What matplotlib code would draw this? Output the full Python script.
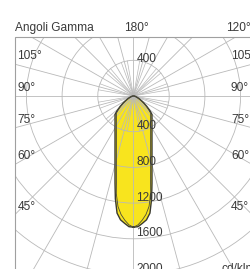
import numpy as np
import matplotlib
matplotlib.use("Agg")
import matplotlib.pyplot as plt
from matplotlib.patches import Rectangle, Circle, Polygon

# ---- data (cd/klm vs gamma angle, 0 deg = nadir) ----
gamma_deg = [0, 2, 4, 6, 8, 10, 12, 15, 20, 25, 30, 35, 40, 45, 48, 52, 56, 60, 65, 70, 80, 90, 100, 180]
plane_c0_c180 = [1470, 1465, 1430, 1395, 1325, 1170, 997, 801, 606, 490, 415, 361, 322, 293,
                 250, 190, 140, 100, 65, 42, 18, 8, 0, 0]
plane_c90_c270 = [1470, 1445, 1395, 1335, 1250, 1110, 916, 736, 557, 451, 381, 332, 296, 269,
                  230, 175, 130, 92, 60, 38, 16, 7, 0, 0]
ring_values = [400, 800, 1200, 1600, 2000]
side_angle_labels = [105, 90, 75, 60, 45]
top_angle_labels = [180, 120]
title_text = "Angoli Gamma"
unit_text = "cd/klm"

# ---- figure / geometry ----
W, H, DPI = 250, 269, 100
fig = plt.figure(figsize=(W / DPI, H / DPI), dpi=DPI)
ax = fig.add_axes([0, 0, 1, 1])
ax.set_axis_off()

CX, CY = 133.5, 96.0
K = 400 / 35.7  # data units per pixel


def px(x, y):
    return (x - CX) * K, (CY - y) * K


ax.set_xlim(-CX * K, (W - CX) * K)
ax.set_ylim((CY - H) * K, CY * K)

fl, ft = px(15, 37)
fr, fb = px(257, 320)
frame = Rectangle((fl, fb), fr - fl, ft - fb, fill=False, edgecolor="#a0a0a0", lw=0.8, zorder=5)
ax.add_patch(frame)

GRID = "#b9b9b9"
TXT = "#3a3a3a"
FONT = dict(family="Liberation Sans", fontsize=8.6, color=TXT, zorder=6)

# rings
for v in ring_values:
    c = Circle((0, 0), v, fill=False, edgecolor=GRID, lw=0.6, zorder=3)
    ax.add_patch(c)
    c.set_clip_path(frame)

# long rays every 15 deg
for a in range(0, 360, 15):
    t = np.radians(a)
    ln, = ax.plot([0, 5000 * np.sin(t)], [0, -5000 * np.cos(t)], color=GRID, lw=0.6, zorder=3)
    ln.set_clip_path(frame)
# short rays every 10 deg near the centre
for a in range(0, 360, 10):
    if a % 15 == 0:
        continue
    t = np.radians(a)
    ax.plot([0, ring_values[0] * np.sin(t)], [0, -ring_values[0] * np.cos(t)],
            color=GRID, lw=0.5, zorder=3)


def curve_xy(vals):
    g = np.radians(np.array(gamma_deg, dtype=float))
    r = np.array(vals, dtype=float)
    xr, yr = r * np.sin(g), -r * np.cos(g)
    xs = np.concatenate([xr, -xr[::-1]])
    ys = np.concatenate([yr, yr[::-1]])
    return xs, ys


xo, yo = curve_xy(plane_c0_c180)
xi, yi = curve_xy(plane_c90_c270)
ax.add_patch(Polygon(np.column_stack([xo, yo]), closed=True, facecolor="#f8e41e",
                     edgecolor="none", zorder=2))
ax.plot(np.append(xo, xo[0]), np.append(yo, yo[0]), color="#3a3a30", lw=1.0, zorder=4)
ax.plot(np.append(xi, xi[0]), np.append(yi, yi[0]), color="#4a4a3a", lw=0.6, zorder=4)

# gamma labels on the side edges
for a in side_angle_labels:
    t = np.radians(a)
    yl = -np.cos(t) * (fl / -np.sin(t))
    ax.text(px(17.5, 0)[0], yl + 2 * K, f"{a}°", ha="left", va="bottom", **FONT)
    ax.text(px(231, 0)[0], yl + 2 * K, f"{a}°", ha="left", va="bottom", **FONT)

# gamma labels on the top edge
for a in top_angle_labels:
    t = np.radians(a)
    xt = np.sin(t) * (ft / -np.cos(t))
    ax.text(xt + 2.5 * K, ft + 3 * K, f"{a}°", ha="center", va="bottom", **FONT)
ax.text(fl, ft + 3 * K, title_text, ha="left", va="bottom", **FONT)

# ring value labels
ax.text(3 * K, ring_values[0] - 1.5 * K, str(ring_values[0]), ha="left", va="baseline", **FONT)
for v in ring_values:
    ax.text(3 * K, -v + 2.5 * K, str(v), ha="left", va="baseline", **FONT)

ax.text(px(222, 0)[0], px(0, 272)[1], unit_text, ha="left", va="baseline", **FONT)

fig.savefig("out.png", dpi=DPI)
